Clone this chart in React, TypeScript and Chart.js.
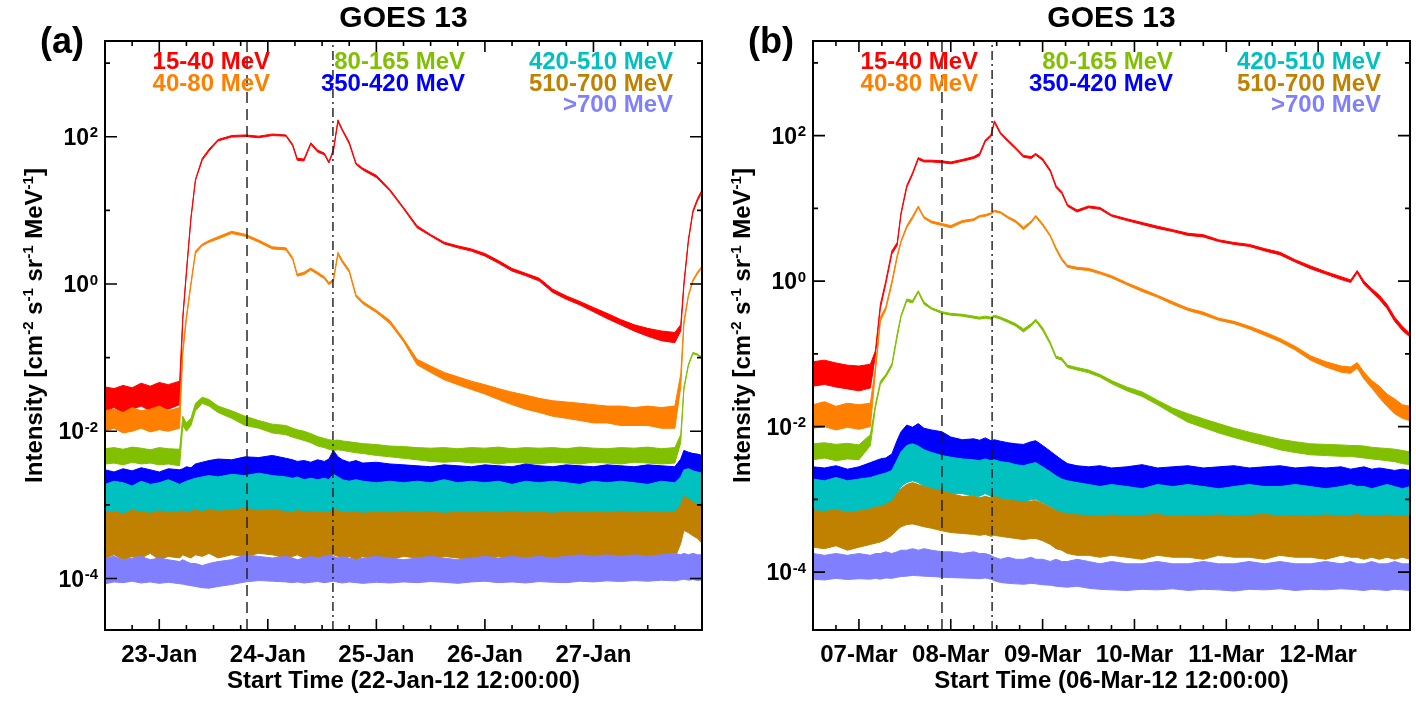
import { useEffect, useRef } from 'react';
import Chart from 'chart.js/auto';

// channel names and colours, in plotting order
const CHANNELS = ['15-40 MeV', '40-80 MeV', '80-165 MeV', '350-420 MeV', '420-510 MeV', '510-700 MeV', '>700 MeV'];
const COLORS = ['#ff0000', '#ff8000', '#80c000', '#0000ff', '#00c0c0', '#c08000', '#8080ff'];

// ---- panel (a): hours after 22-Jan-12 12:00:00 ----
const A_T = [0,2,4,6,8,10,12,14,16.5,17.2,18,19,20,21.5,23,25,28,31,34,37,40,41.5,42.5,44,45.5,47,48.5,49.5,50.5,51.5,52.5,54,55.5,57,60,63,66,69,72,75,78,81,84,87,90,93,96,99,102,105,108,111,114,117,120,123,126,127.3,128,129,130,131,132];
const A_DAYS = ['23-Jan', '24-Jan', '25-Jan', '26-Jan', '27-Jan'];
const A_MARKS = [31.4, 50.4];

// lower / upper envelope of each channel's trace
const A_RED_LO = [0.019,0.021,0.018,0.020,0.022,0.019,0.021,0.020,0.023,0.33,1.4,7.6,25.5,48,64,88,99,101,97,104,102,75,48,47,79,62,57,44,63,160,120,80,42,35.5,28,18.3,10.5,5.8,4.5,3.5,3.1,2.8,2.4,1.92,1.5,1.3,1.1,0.77,0.62,0.52,0.42,0.34,0.28,0.23,0.195,0.17,0.16,0.23,0.95,3.8,9.4,13.5,17.5];
const A_RED_HI = [0.040,0.038,0.042,0.039,0.045,0.041,0.046,0.043,0.048,0.36,1.5,8,26.5,51,68,92,104,106,102,109,106,79,51,50,83,66,60,46,67,170,126,85,44,37.5,30,19.3,11,6.2,4.7,3.7,3.3,3.0,2.6,2.08,1.63,1.4,1.2,0.85,0.69,0.58,0.48,0.40,0.33,0.28,0.25,0.23,0.22,0.28,1.05,4.1,10,14.5,19];
const A_ORG_LO = [0.010,0.011,0.0095,0.010,0.011,0.0098,0.0105,0.010,0.011,0.11,0.33,0.95,2.6,3.3,3.7,4.1,4.85,4.45,3.7,3.0,2.9,2.15,1.28,1.35,1.55,1.35,1.18,0.98,1.08,2.5,1.95,1.45,0.67,0.54,0.41,0.29,0.165,0.080,0.063,0.050,0.043,0.037,0.032,0.027,0.023,0.020,0.018,0.016,0.015,0.014,0.013,0.013,0.012,0.012,0.012,0.011,0.011,0.04,0.28,0.68,1.08,1.38,1.65];
const A_ORG_HI = [0.019,0.020,0.018,0.021,0.019,0.020,0.022,0.019,0.021,0.13,0.37,1.05,2.8,3.5,3.9,4.4,5.2,4.75,3.95,3.2,3.1,2.3,1.36,1.45,1.65,1.45,1.26,1.05,1.16,2.7,2.1,1.55,0.72,0.58,0.44,0.32,0.18,0.095,0.077,0.063,0.055,0.048,0.043,0.038,0.034,0.031,0.028,0.026,0.025,0.024,0.023,0.022,0.022,0.021,0.022,0.021,0.022,0.06,0.32,0.72,1.15,1.46,1.75];
const A_GRN_LO = [0.0036,0.0037,0.0035,0.0038,0.0036,0.0037,0.0035,0.0036,0.0034,0.012,0.010,0.012,0.019,0.024,0.022,0.018,0.015,0.012,0.011,0.0095,0.009,0.0083,0.008,0.0075,0.007,0.0063,0.006,0.0057,0.0055,0.0056,0.0055,0.0053,0.0051,0.005,0.0047,0.0045,0.0043,0.0041,0.0039,0.0038,0.0039,0.0037,0.0038,0.0036,0.0038,0.0037,0.0036,0.0038,0.0037,0.0036,0.0038,0.0037,0.0036,0.0038,0.0037,0.0036,0.0037,0.007,0.037,0.078,0.113,0.108,0.098];
const A_GRN_HI = [0.0058,0.006,0.0057,0.0061,0.0059,0.0056,0.006,0.0058,0.0057,0.016,0.013,0.015,0.024,0.029,0.027,0.022,0.019,0.016,0.014,0.0125,0.012,0.011,0.0105,0.01,0.0093,0.0085,0.008,0.0077,0.0075,0.0076,0.0074,0.0072,0.007,0.0068,0.0066,0.0063,0.0062,0.006,0.0059,0.006,0.0058,0.006,0.0059,0.0061,0.0058,0.006,0.0059,0.006,0.0058,0.0061,0.0059,0.0058,0.006,0.0059,0.0061,0.0058,0.006,0.009,0.040,0.082,0.118,0.112,0.102];
const A_BLU_LO = [0.0015,0.0016,0.0014,0.0016,0.0015,0.0016,0.0014,0.0015,0.0016,0.0016,0.0015,0.0017,0.0017,0.0018,0.0019,0.0019,0.0020,0.0021,0.0020,0.0021,0.0020,0.0019,0.0018,0.0018,0.0017,0.0018,0.0017,0.0018,0.0019,0.0018,0.0017,0.0016,0.0017,0.0016,0.0015,0.0016,0.0015,0.0015,0.0016,0.0015,0.0016,0.0015,0.0016,0.0015,0.0016,0.0015,0.0016,0.0015,0.0016,0.0015,0.0016,0.0015,0.0016,0.0015,0.0016,0.0015,0.0016,0.0020,0.0027,0.0028,0.0027,0.0026,0.0025];
const A_BLU_HI = [0.0030,0.0028,0.0031,0.0029,0.0032,0.0030,0.0028,0.0031,0.0030,0.0031,0.0033,0.0032,0.0036,0.0038,0.0040,0.0042,0.0041,0.0045,0.0044,0.0047,0.0043,0.0041,0.0039,0.0040,0.0038,0.0041,0.0039,0.0042,0.0055,0.0045,0.0041,0.0038,0.0040,0.0037,0.0038,0.0036,0.0035,0.0034,0.0033,0.0035,0.0034,0.0033,0.0035,0.0034,0.0033,0.0036,0.0034,0.0033,0.0035,0.0034,0.0033,0.0035,0.0034,0.0033,0.0035,0.0034,0.0033,0.0042,0.0055,0.0052,0.0050,0.0049,0.0047];
const A_CYN_LO = [0.00068,0.00072,0.00066,0.00070,0.00065,0.00071,0.00068,0.00070,0.00067,0.00069,0.00071,0.00073,0.00075,0.00078,0.00080,0.00079,0.00082,0.00080,0.00083,0.00081,0.00078,0.00077,0.00076,0.00075,0.00074,0.00073,0.00075,0.00072,0.00074,0.00073,0.00071,0.00070,0.00069,0.00068,0.00067,0.00068,0.00066,0.00067,0.00065,0.00066,0.00064,0.00066,0.00065,0.00066,0.00064,0.00066,0.00065,0.00064,0.00066,0.00065,0.00064,0.00066,0.00065,0.00064,0.00066,0.00065,0.00064,0.00075,0.0010,0.0011,0.0010,0.0009,0.0009];
const A_CYN_HI = [0.0019,0.0021,0.0020,0.0018,0.0021,0.0019,0.0020,0.0022,0.0019,0.0020,0.0021,0.0022,0.0023,0.0024,0.0025,0.0024,0.0026,0.0025,0.0027,0.0025,0.0024,0.0023,0.0024,0.0022,0.0023,0.0022,0.0023,0.0022,0.0026,0.0024,0.0022,0.0021,0.0022,0.0021,0.0020,0.0021,0.0020,0.0021,0.0020,0.0022,0.0020,0.0021,0.0020,0.0021,0.0019,0.0021,0.0020,0.0021,0.0020,0.0019,0.0021,0.0020,0.0021,0.0020,0.0019,0.0021,0.0020,0.0024,0.0030,0.0031,0.0029,0.0028,0.0027];
const A_GLD_LO = [0.00019,0.00021,0.00018,0.00020,0.00019,0.00022,0.00018,0.00020,0.00019,0.00021,0.00020,0.00019,0.00021,0.00020,0.00022,0.00019,0.00021,0.00020,0.00022,0.00021,0.00019,0.00020,0.00021,0.00019,0.00020,0.00018,0.00020,0.00019,0.00021,0.00020,0.00019,0.00020,0.00018,0.00020,0.00019,0.00018,0.00020,0.00019,0.00018,0.00020,0.00019,0.00018,0.00019,0.00020,0.00018,0.00019,0.00020,0.00018,0.00019,0.00020,0.00018,0.00019,0.00020,0.00018,0.00019,0.00020,0.00019,0.00030,0.00045,0.00042,0.00038,0.00035,0.00030];
const A_GLD_HI = [0.00078,0.00082,0.00075,0.00085,0.00080,0.00077,0.00083,0.00079,0.00081,0.00084,0.00078,0.00082,0.00086,0.00080,0.00088,0.00082,0.00085,0.00090,0.00083,0.00087,0.00081,0.00079,0.00084,0.00080,0.00082,0.00078,0.00081,0.00079,0.00086,0.00083,0.00080,0.00078,0.00081,0.00077,0.00080,0.00078,0.00082,0.00079,0.00081,0.00077,0.00080,0.00078,0.00081,0.00079,0.00082,0.00078,0.00080,0.00077,0.00081,0.00079,0.00080,0.00078,0.00082,0.00079,0.00081,0.00078,0.00080,0.0010,0.0013,0.0012,0.0011,0.0010,0.00095];
const A_PUR_LO = [0.000085,0.000090,0.000088,0.000092,0.000087,0.000090,0.000086,0.000089,0.000085,0.000084,0.000082,0.000080,0.000078,0.000075,0.000074,0.000078,0.000083,0.000090,0.000094,0.000092,0.000090,0.000088,0.000090,0.000087,0.000089,0.000091,0.000088,0.000090,0.000092,0.000089,0.000087,0.000090,0.000088,0.000086,0.000089,0.000087,0.000090,0.000088,0.000091,0.000089,0.000086,0.000090,0.000092,0.000088,0.000090,0.000087,0.000091,0.000089,0.000088,0.000092,0.000090,0.000093,0.000091,0.000094,0.000092,0.000095,0.000093,0.000096,0.000098,0.000095,0.000097,0.000094,0.000096];
const A_PUR_HI = [0.00019,0.00020,0.00018,0.00019,0.00020,0.00018,0.00019,0.00018,0.00017,0.00018,0.00017,0.00016,0.00016,0.00015,0.00016,0.00017,0.00018,0.00021,0.00020,0.00019,0.00020,0.00019,0.00018,0.00019,0.00020,0.00019,0.00020,0.00021,0.00020,0.00019,0.00020,0.00019,0.00018,0.00019,0.00020,0.00019,0.00018,0.00019,0.00020,0.00019,0.00018,0.00019,0.00020,0.00019,0.00020,0.00019,0.00020,0.00019,0.00020,0.00021,0.00020,0.00021,0.00020,0.00021,0.00020,0.00021,0.00022,0.00021,0.00022,0.00021,0.00022,0.00021,0.00021];

// ---- panel (b): hours after 06-Mar-12 12:00:00 ----
const B_T = [0,3,6,9,12,15,16.3,17.6,19,20.6,22,23,24.5,26,27.5,29,31,33.7,36,39,42,43.5,45,46.5,47.4,49,51,53,55,57,58.2,60,62,63.5,65,66.5,69,72,75,78,82,86,90,94,98,102,106,110,114,118,122,126,130,134,138,140.5,142.2,144,146,148,150,152,154,156];
const B_DAYS = ['07-Mar', '08-Mar', '09-Mar', '10-Mar', '11-Mar', '12-Mar'];
const B_MARKS = [33.7, 46.8];

const B_RED_LO = [0.036,0.038,0.035,0.033,0.031,0.034,0.095,0.42,0.9,2.35,3.1,8.2,19.3,29,47,43.5,43.5,42.5,41,44.5,48.5,53,82,97,150,105,82,65,50.5,48.5,54,45.5,32,19.3,16,10.7,8.9,10.2,9.7,7.8,6.8,6.0,5.3,4.8,4.25,4.05,3.5,3.2,3.0,2.6,2.3,1.83,1.48,1.25,1.05,0.96,1.3,0.9,0.71,0.56,0.42,0.28,0.21,0.17];
const B_RED_HI = [0.078,0.082,0.075,0.070,0.068,0.072,0.11,0.48,1.0,2.6,3.4,8.8,20.7,31,50,46,46,45,43.5,47,51.5,57,87,103,160,111,87,69,53.5,51.5,57,48.5,34,20.7,17,11.3,9.5,10.8,10.3,8.2,7.2,6.4,5.7,5.1,4.55,4.35,3.7,3.4,3.2,2.8,2.5,1.97,1.62,1.35,1.15,1.04,1.4,1.0,0.79,0.64,0.48,0.32,0.24,0.19];
const B_ORG_LO = [0.0095,0.010,0.0090,0.0098,0.0092,0.010,0.055,0.28,0.4,0.9,2.1,3.4,5.4,7.2,10.2,7.3,6.3,5.8,5.4,6.4,6.8,7.6,7.8,8.3,9.0,8.6,7.3,6.4,5.1,6.3,7.6,5.8,4.1,2.7,1.93,1.55,1.45,1.4,1.26,1.11,0.89,0.72,0.6,0.48,0.395,0.345,0.29,0.26,0.22,0.18,0.147,0.113,0.082,0.066,0.056,0.054,0.064,0.045,0.034,0.025,0.019,0.015,0.013,0.012];
const B_ORG_HI = [0.020,0.022,0.019,0.021,0.020,0.021,0.065,0.32,0.44,1.0,2.3,3.6,5.8,7.8,10.8,7.7,6.7,6.2,5.8,6.8,7.2,8.0,8.2,8.7,9.4,9.0,7.7,6.8,5.5,6.7,8.0,6.2,4.3,2.9,2.07,1.65,1.55,1.5,1.34,1.19,0.95,0.78,0.64,0.52,0.425,0.375,0.31,0.28,0.24,0.2,0.163,0.127,0.094,0.078,0.068,0.066,0.076,0.056,0.043,0.036,0.028,0.024,0.02,0.019];
const B_GRN_LO = [0.0035,0.0037,0.0034,0.0036,0.0035,0.0055,0.018,0.038,0.048,0.067,0.17,0.32,0.53,0.5,0.7,0.48,0.41,0.36,0.34,0.33,0.31,0.3,0.31,0.3,0.32,0.3,0.27,0.24,0.2,0.24,0.28,0.21,0.135,0.087,0.082,0.065,0.06,0.055,0.048,0.039,0.031,0.026,0.02,0.015,0.0115,0.0097,0.0082,0.0071,0.0062,0.0055,0.0048,0.0044,0.0041,0.004,0.0039,0.0039,0.0038,0.0037,0.0036,0.0035,0.0034,0.0033,0.0031,0.003];
const B_GRN_HI = [0.0058,0.006,0.0057,0.0059,0.0056,0.0078,0.02,0.042,0.052,0.073,0.19,0.34,0.57,0.54,0.74,0.52,0.43,0.38,0.36,0.35,0.33,0.32,0.33,0.32,0.34,0.32,0.29,0.26,0.22,0.26,0.3,0.23,0.145,0.093,0.088,0.07,0.065,0.06,0.052,0.043,0.035,0.03,0.023,0.018,0.015,0.0128,0.011,0.0095,0.0084,0.0075,0.0067,0.0062,0.0058,0.0057,0.0056,0.0055,0.0055,0.0054,0.0052,0.0051,0.005,0.0049,0.0047,0.0045];
const B_BLU_LO = [0.0014,0.0013,0.0014,0.0013,0.0014,0.0016,0.0017,0.0018,0.0019,0.0021,0.0030,0.0040,0.0046,0.0045,0.0046,0.0042,0.0040,0.0037,0.0033,0.0031,0.0032,0.0031,0.0032,0.0030,0.0031,0.0031,0.0029,0.0028,0.0027,0.0029,0.0030,0.0026,0.0022,0.0019,0.0017,0.0015,0.0014,0.0013,0.0013,0.0012,0.0013,0.0012,0.0013,0.0012,0.0013,0.0012,0.0013,0.0012,0.0013,0.0012,0.0013,0.0012,0.0012,0.0013,0.0012,0.0012,0.0013,0.0012,0.0011,0.0012,0.0011,0.0012,0.0011,0.0011];
const B_BLU_HI = [0.0028,0.0027,0.0029,0.0026,0.0028,0.0032,0.0034,0.0036,0.0037,0.0042,0.0065,0.0085,0.0105,0.0098,0.011,0.0095,0.0090,0.0085,0.0072,0.0066,0.0068,0.0065,0.0070,0.0064,0.0066,0.0063,0.0060,0.0058,0.0057,0.0062,0.0064,0.0055,0.0046,0.0040,0.0035,0.0031,0.0029,0.0028,0.0029,0.0027,0.0028,0.0030,0.0027,0.0028,0.0029,0.0027,0.0028,0.0029,0.0027,0.0028,0.0029,0.0027,0.0028,0.0027,0.0028,0.0026,0.0027,0.0028,0.0026,0.0027,0.0026,0.0025,0.0026,0.0025];
const B_CYN_LO = [0.00070,0.00068,0.00072,0.00066,0.00070,0.00074,0.00078,0.00080,0.00082,0.00090,0.0012,0.0015,0.0017,0.0018,0.0017,0.0015,0.0014,0.0013,0.0012,0.0012,0.0011,0.0011,0.0012,0.0011,0.0011,0.0010,0.0010,0.0009,0.0009,0.0010,0.0010,0.0009,0.0008,0.0007,0.00065,0.0006,0.00055,0.0005,0.00048,0.00046,0.00049,0.00047,0.00048,0.00046,0.00049,0.00047,0.00048,0.00046,0.00048,0.00047,0.00049,0.00046,0.00048,0.00047,0.00048,0.00046,0.00047,0.00048,0.00046,0.00047,0.00046,0.00047,0.00045,0.00046];
const B_CYN_HI = [0.0019,0.0018,0.0020,0.0018,0.0019,0.0020,0.0021,0.0022,0.0023,0.0025,0.0035,0.0045,0.0055,0.0058,0.0054,0.0048,0.0044,0.0040,0.0038,0.0036,0.0035,0.0034,0.0036,0.0034,0.0035,0.0033,0.0032,0.0030,0.0029,0.0031,0.0032,0.0028,0.0024,0.0021,0.0019,0.0018,0.0017,0.0016,0.0015,0.0016,0.0015,0.0014,0.0016,0.0015,0.0016,0.0015,0.0014,0.0015,0.0016,0.0015,0.0015,0.0016,0.0015,0.0014,0.0015,0.0016,0.0015,0.0015,0.0014,0.0015,0.0016,0.0015,0.0014,0.0015];
const B_GLD_LO = [0.00022,0.00021,0.00023,0.00020,0.00022,0.00024,0.00025,0.00026,0.00028,0.00032,0.00038,0.00042,0.00045,0.00046,0.00044,0.00042,0.00040,0.00037,0.00035,0.00034,0.00033,0.00032,0.00033,0.00031,0.00032,0.00031,0.00030,0.00029,0.00028,0.00029,0.00029,0.00027,0.00024,0.00021,0.00020,0.00018,0.00017,0.00017,0.00016,0.00017,0.00016,0.00015,0.00017,0.00016,0.00016,0.00015,0.00017,0.00016,0.00016,0.00015,0.00017,0.00016,0.00016,0.00015,0.00017,0.00016,0.00016,0.00015,0.00016,0.00015,0.00016,0.00015,0.00016,0.00015];
const B_GLD_HI = [0.00070,0.00068,0.00072,0.00066,0.00069,0.00074,0.00078,0.00080,0.00085,0.00095,0.0012,0.0014,0.0016,0.0017,0.0016,0.0015,0.0014,0.0013,0.0012,0.0011,0.0011,0.00105,0.0011,0.00105,0.0011,0.00102,0.00098,0.00095,0.00092,0.00095,0.00096,0.00088,0.00078,0.00070,0.00066,0.00063,0.00061,0.00060,0.00058,0.00061,0.00059,0.00060,0.00062,0.00058,0.00060,0.00059,0.00061,0.00058,0.00060,0.00062,0.00059,0.00060,0.00058,0.00061,0.00059,0.00060,0.00062,0.00058,0.00060,0.00059,0.00061,0.00058,0.00060,0.00059];
const B_PUR_LO = [0.000080,0.000078,0.000082,0.000079,0.000081,0.000080,0.000082,0.000080,0.000083,0.000082,0.000085,0.000087,0.000088,0.000090,0.000089,0.000088,0.000087,0.000085,0.000084,0.000083,0.000082,0.000081,0.000083,0.000080,0.000076,0.000072,0.000070,0.000069,0.000068,0.000070,0.000069,0.000067,0.000066,0.000064,0.000063,0.000062,0.000064,0.000060,0.000058,0.000057,0.000056,0.000058,0.000057,0.000059,0.000056,0.000058,0.000057,0.000055,0.000058,0.000057,0.000059,0.000056,0.000058,0.000057,0.000059,0.000058,0.000057,0.000056,0.000058,0.000057,0.000056,0.000058,0.000057,0.000056];
const B_PUR_HI = [0.00018,0.00017,0.00018,0.00017,0.00018,0.00017,0.00018,0.00018,0.00019,0.00018,0.00019,0.00020,0.00020,0.00021,0.00020,0.00021,0.00020,0.00019,0.00019,0.00018,0.00019,0.00018,0.00018,0.00017,0.00016,0.00015,0.00016,0.00015,0.00015,0.00016,0.00015,0.00015,0.00014,0.00015,0.00014,0.00014,0.00015,0.00014,0.00013,0.00014,0.00013,0.00013,0.00014,0.00013,0.00013,0.00014,0.00013,0.00013,0.00014,0.00013,0.00014,0.00013,0.00013,0.00014,0.00013,0.00014,0.00013,0.00013,0.00014,0.00013,0.00013,0.00014,0.00013,0.00013];

type Panel = {
  tag: string;
  times: number[];
  lo: number[][];
  hi: number[][];
  tMax: number;
  yMin: number;
  yMax: number;
  days: string[];
  start: string;
  marks: number[];
};

const PANEL_A: Panel = {
  tag: '(a)', times: A_T, tMax: 132, yMin: 2e-5, yMax: 2e3, days: A_DAYS,
  start: 'Start Time (22-Jan-12 12:00:00)', marks: A_MARKS,
  lo: [A_RED_LO, A_ORG_LO, A_GRN_LO, A_BLU_LO, A_CYN_LO, A_GLD_LO, A_PUR_LO],
  hi: [A_RED_HI, A_ORG_HI, A_GRN_HI, A_BLU_HI, A_CYN_HI, A_GLD_HI, A_PUR_HI],
};

const PANEL_B: Panel = {
  tag: '(b)', times: B_T, tMax: 156, yMin: 1.6e-5, yMax: 2e3, days: B_DAYS,
  start: 'Start Time (06-Mar-12 12:00:00)', marks: B_MARKS,
  lo: [B_RED_LO, B_ORG_LO, B_GRN_LO, B_BLU_LO, B_CYN_LO, B_GLD_LO, B_PUR_LO],
  hi: [B_RED_HI, B_ORG_HI, B_GRN_HI, B_BLU_HI, B_CYN_HI, B_GLD_HI, B_PUR_HI],
};

const FONT = '"Liberation Sans", Arial, Helvetica, sans-serif';
// right edge x and row of each legend entry
const LEGEND_X = [270, 270, 465, 465, 673, 673, 673];
const LEGEND_ROW = [0, 1, 0, 1, 0, 1, 2];

const framePlugin = (p: Panel) => ({
  id: 'frame',
  afterDraw(chart: any) {
    const { ctx, chartArea: a } = chart;
    const xs = chart.scales.x;
    const ys = chart.scales.y;
    ctx.save();
    ctx.strokeStyle = '#000';
    ctx.fillStyle = '#000';

    // ticks, pointing inwards on all four sides
    ctx.lineWidth = 1.6;
    ctx.beginPath();
    for (let h = 0; h <= p.tMax; h += 6) {
      const px = xs.getPixelForValue(h);
      const len = (h - 12) % 24 === 0 ? 11 : 5;
      ctx.moveTo(px, a.bottom); ctx.lineTo(px, a.bottom - len);
      ctx.moveTo(px, a.top); ctx.lineTo(px, a.top + len);
    }
    const eLo = Math.ceil(Math.log10(p.yMin));
    const eHi = Math.floor(Math.log10(p.yMax));
    for (let e = eLo; e <= eHi; e++) {
      const py = ys.getPixelForValue(Math.pow(10, e));
      const len = e % 2 === 0 ? 12 : 5;
      ctx.moveTo(a.left, py); ctx.lineTo(a.left + len, py);
      ctx.moveTo(a.right, py); ctx.lineTo(a.right - len, py);
    }
    ctx.stroke();

    ctx.lineWidth = 2;
    ctx.strokeRect(a.left, a.top, a.right - a.left, a.bottom - a.top);

    // y tick labels 10^n
    ctx.textBaseline = 'alphabetic';
    ctx.textAlign = 'left';
    for (let e = eLo; e <= eHi; e++) {
      if (e % 2 !== 0) continue;
      const py = ys.getPixelForValue(Math.pow(10, e));
      const sup = String(e);
      ctx.font = `bold 15px ${FONT}`;
      const ws = ctx.measureText(sup).width;
      ctx.fillText(sup, a.left - 7 - ws, py + 0.5);
      ctx.font = `bold 23px ${FONT}`;
      const wb = ctx.measureText('10').width;
      ctx.fillText('10', a.left - 7 - ws - wb - 0.5, py + 8);
    }

    // x tick labels
    ctx.textAlign = 'center';
    ctx.font = `bold 24px ${FONT}`;
    p.days.forEach((d, i) => {
      ctx.fillText(d, xs.getPixelForValue(12 + 24 * i), a.bottom + 32);
    });
    ctx.fillText(p.start, (a.left + a.right) / 2, a.bottom + 58);

    // title and panel tag
    ctx.font = `bold 30px ${FONT}`;
    ctx.fillText('GOES 13', (a.left + a.right) / 2, 27);
    ctx.textAlign = 'left';
    ctx.font = `bold 36px ${FONT}`;
    ctx.fillText(p.tag, 40, 53);

    // channel legend
    ctx.textAlign = 'right';
    ctx.font = `bold 24px ${FONT}`;
    CHANNELS.forEach((c, i) => {
      ctx.fillStyle = COLORS[i];
      ctx.fillText(c, LEGEND_X[i], 69 + LEGEND_ROW[i] * 21.5);
    });

    // y axis title with superscripts
    ctx.fillStyle = '#000';
    const parts: [string, boolean][] = [
      ['Intensity [cm', false], ['-2', true], [' s', false], ['-1', true],
      [' sr', false], ['-1', true], [' MeV', false], ['-1', true], [']', false],
    ];
    const big = `bold 24px ${FONT}`;
    const small = `bold 15px ${FONT}`;
    let total = 0;
    parts.forEach(([t, s]) => { ctx.font = s ? small : big; total += ctx.measureText(t).width; });
    ctx.translate(42, (a.top + a.bottom) / 2 - 10);
    ctx.rotate(-Math.PI / 2);
    ctx.textAlign = 'left';
    let cx = -total / 2;
    parts.forEach(([t, s]) => {
      ctx.font = s ? small : big;
      ctx.fillText(t, cx, s ? -9 : 0);
      cx += ctx.measureText(t).width;
    });
    ctx.restore();
  },
});

const GoesPanel = ({ panel }: { panel: Panel }) => {
  const chartRef = useRef<HTMLCanvasElement | null>(null);

  useEffect(() => {
    const datasets: any[] = [];
    // event markers: dashed and dash-dot verticals, drawn on top
    panel.marks.forEach((m, i) => {
      datasets.push({
        data: [{ x: m, y: panel.yMin }, { x: m, y: panel.yMax }],
        borderColor: '#1a1a1a',
        borderWidth: 1.4,
        borderDash: i === 0 ? [11, 6] : [9, 4, 2, 4],
        pointRadius: 0,
        fill: false,
      });
    });
    // last channel first: chart.js paints lower indices on top
    for (let c = CHANNELS.length - 1; c >= 0; c--) {
      datasets.push({
        label: CHANNELS[c] + ' lo',
        data: panel.times.map((t, i) => ({ x: t, y: panel.lo[c][i] })),
        borderColor: COLORS[c],
        borderWidth: 1,
        pointRadius: 0,
        fill: false,
      });
      datasets.push({
        label: CHANNELS[c],
        data: panel.times.map((t, i) => ({ x: t, y: panel.hi[c][i] })),
        borderColor: COLORS[c],
        backgroundColor: COLORS[c],
        borderWidth: 1,
        pointRadius: 0,
        fill: '-1',
      });
    }

    const chart = new Chart(chartRef.current!, {
      type: 'line',
      data: { datasets },
      options: {
        responsive: false,
        animation: false,
        layout: { padding: { left: 105, top: 41, right: 6, bottom: 78 } },
        scales: {
          x: { type: 'linear', min: 0, max: panel.tMax, display: false },
          y: { type: 'logarithmic', min: panel.yMin, max: panel.yMax, display: false },
        },
        plugins: {
          legend: { display: false },
          tooltip: { enabled: false },
        },
      },
      plugins: [framePlugin(panel)],
    });
    return () => {
      chart.destroy();
    };
  }, [panel]);

  return <canvas ref={chartRef} width={708} height={708} style={{ width: 708, height: 708, display: 'block' }} />;
};

const App = () => {
  return (
    <div style={{ position: 'absolute', left: 0, top: 0, width: 1416, height: 708, display: 'flex', background: '#fff' }}>
      <GoesPanel panel={PANEL_A} />
      <GoesPanel panel={PANEL_B} />
    </div>
  );
};

export default App;
